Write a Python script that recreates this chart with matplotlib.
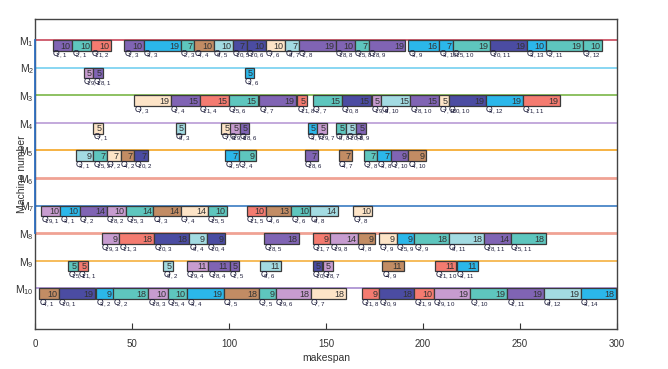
import numpy as np
import matplotlib.pyplot as plt

plt.rcParams['font.family'] = ['Liberation Sans', 'DejaVu Sans']
plt.rcParams['mathtext.default'] = 'regular'

# one list per machine: start time, processing time, colour key, operation label
starts = [
    [9, 19, 29, 46, 56, 75, 82, 92, 102, 109, 119, 129, 136, 155, 165, 172, 192.5, 208.5, 215.5, 234.5, 253.5, 263.5, 282.5],
    [25, 30, 108],
    [51, 70, 85, 100, 115.5, 135.3, 143.2, 158.3, 173.6, 178.6, 193.5, 208.5, 213.5, 232.5, 251.5],
    [30, 72.5, 96, 100.5, 105.5, 140.5, 145.5, 155.2, 160.4, 165.5],
    [21, 30, 37, 44, 51, 98, 105, 139, 156.5, 169.5, 176.5, 183.5, 192.5],
    [],
    [3, 13, 23, 37, 47, 61, 75, 89, 109, 119, 132, 142, 164],
    [34.3, 43.4, 61.4, 79.4, 88.8, 118.2, 143.2, 152.3, 166.4, 177.4, 186.5, 195.5, 213.5, 231.5, 245.5],
    [17, 22.2, 66.1, 78.2, 89.3, 100.3, 116, 143.2, 148.4, 179, 206.3, 217.5],
    [2, 12, 31.4, 40.3, 58.4, 68.4, 78.5, 97.2, 115.2, 124.2, 142.2, 168.5, 177.5, 195.5, 205.5, 224.5, 243.5, 262.5, 281.5],
]
durations = [
    [10, 10, 10, 10, 19, 7, 10, 10, 7, 10, 10, 7, 19, 10, 7, 19, 16, 7, 19, 19, 10, 19, 10],
    [5, 5, 5],
    [19, 15, 15, 15, 19, 5, 15, 15, 5, 15, 15, 5, 19, 19, 19],
    [5, 5, 5, 5, 5, 5, 5, 5, 5, 5],
    [9, 7, 7, 7, 7, 7, 9, 7, 7, 7, 7, 9, 9],
    [],
    [10, 10, 14, 10, 14, 14, 14, 10, 10, 13, 10, 14, 10],
    [9, 18, 18, 9, 9, 18, 9, 14, 9, 9, 9, 18, 18, 14, 18],
    [5, 5, 5, 11, 11, 5, 11, 5, 5, 11, 11, 11],
    [10, 19, 9, 18, 10, 10, 19, 18, 9, 18, 18, 9, 18, 10, 19, 19, 19, 19, 18],
]
colour_keys = [
    ['pu', 'te', 'sa', 'pu', 'sk', 'te', 'br', 'lb', 'na', 'na', 'pe', 'lb', 'pu', 'pu', 'te', 'pu', 'sk', 'sk', 'te', 'na', 'sk', 'te', 'te'],
    ['li', 'pu', 'sk'],
    ['pe', 'pu', 'sa', 'te', 'pu', 'sa', 'te', 'na', 'li', 'lb', 'pu', 'pe', 'na', 'sk', 'sa'],
    ['pe', 'lb', 'pe', 'li', 'pu', 'sk', 'li', 'te', 'lb', 'pu'],
    ['lb', 'te', 'pe', 'br', 'na', 'sk', 'te', 'pu', 'br', 'te', 'sk', 'pu', 'br'],
    [],
    ['li', 'sk', 'pu', 'li', 'te', 'br', 'pe', 'te', 'sa', 'br', 'te', 'lb', 'pe'],
    ['li', 'sa', 'na', 'lb', 'na', 'pu', 'sa', 'li', 'br', 'pe', 'sk', 'te', 'lb', 'pu', 'te'],
    ['te', 'sa', 'lb', 'li', 'pu', 'pu', 'lb', 'na', 'li', 'br', 'sa', 'sk'],
    ['br', 'na', 'sk', 'te', 'li', 'te', 'sk', 'br', 'te', 'li', 'pe', 'sa', 'na', 'sa', 'li', 'te', 'pu', 'lb', 'sk'],
]
op_labels = [
    ['1,1', '2,1', '11,2', '1,3', '3,3', '2,3', '4,4', '6,5', '10,5', '10,6', '7,6', '6,7', '1,8', '18,8', '15,8', '18,9', '3,9', '3,10', '15,10', '10,11', '3,13', '2,11', '2,12'],
    ['19,1', '18,1', '3,6'],
    ['7,3', '1,4', '11,4', '15,6', '1,7', '11,8', '2,7', '10,8', '19,9', '6,10', '18,10', '7,10', '10,10', '3,12', '11,11'],
    ['7,1', '6,3', '7,5', '19,6', '18,6', '3,7', '19,7', '5,8', '10,9', '1,9'],
    ['3,1', '15,2', '7,2', '4,2', '10,2', '3,5', '2,4', '18,6', '4,7', '2,8', '3,8', '1,10', '4,10'],
    [],
    ['19,1', '3,1', '1,2', '18,2', '15,3', '4,3', '7,4', '15,5', '11,5', '4,6', '2,6', '6,8', '7,8'],
    ['19,3', '11,3', '10,3', '6,4', '10,4', '18,5', '11,7', '19,8', '4,8', '7,9', '15,9', '2,9', '6,11', '18,11', '15,11'],
    ['15,1', '11,1', '6,2', '19,4', '18,4', '1,5', '6,6', '10,7', '18,7', '4,9', '11,10', '3,11'],
    ['4,1', '10,1', '3,2', '2,2', '18,3', '15,4', '3,4', '4,5', '2,5', '19,6', '7,7', '11,8', '10,9', '11,9', '19,10', '2,10', '1,11', '6,12', '3,14'],
]
machines = ['M$_{%d}$' % i for i in range(1, 11)]
xticks = [0, 50, 100, 150, 200, 250, 300]

palette = {
    'pu': '#8064b4', 'te': '#5ec6be', 'sa': '#f47b70', 'sk': '#2bb7ea',
    'br': '#c28c64', 'lb': '#a3dbe2', 'na': '#4b4ca2', 'pe': '#fde4c7',
    'li': '#c79cd0',
}
line_colours = ['#c8475a', '#74d0f0', '#7ab648', '#b99bd6', '#f5a623',
                '#f0a294', '#3a7cc2', '#f0a294', '#f5b040', '#a78bd0']
line_widths = [1.2, 1.2, 1.2, 1.2, 1.2, 2.0, 1.2, 2.0, 1.2, 1.2]

fig = plt.figure(figsize=(6.68, 3.69), dpi=100)
ax = fig.add_axes([0.0528, 0.1084, 0.8704, 0.8393])

bar_h = 0.39
for m in range(10):
    y = m + 1
    ax.plot([0, 300], [y, y], color=line_colours[m], lw=line_widths[m], zorder=1)
    cols = [palette[c] for c in colour_keys[m]]
    ax.barh([y + bar_h / 2] * len(starts[m]), durations[m], left=starts[m], height=bar_h,
            color=cols, edgecolor='#3a3a3a', linewidth=0.9, zorder=2)
    for s, d, lab in zip(starts[m], durations[m], op_labels[m]):
        ax.text(s + d - 0.8, y + 0.22, str(d), ha='right', va='center',
                fontsize=6.5, color='#333333', zorder=3)
        # subscript tucked under the O, as in the original rendering
        ax.text(s - 0.3, y + 0.53, r'O$_{\!\!\!%s}$' % lab, ha='left', va='center',
                fontsize=6.3, color='#1c1c3a', zorder=3)

# blue stretch of the y axis
ax.plot([0, 0], [1, 8], color='#2f6fc0', lw=1.3, zorder=4, clip_on=False)

ax.set_xlim(0, 300)
ax.set_ylim(11.475, 0.25)
ax.set_xticks(xticks)
ax.set_yticks(range(1, 11))
ax.set_yticklabels(machines)
ax.tick_params(axis='x', direction='in', length=4, labelsize=7, colors='#333333', pad=7)
ax.tick_params(axis='y', length=0, labelsize=7.5, colors='#333333', pad=1)
for sp in ax.spines.values():
    sp.set_color('#444444')
    sp.set_linewidth(1.0)

ax.set_xlabel('makespan', fontsize=7.5, color='#333333', labelpad=3)
ax.set_ylabel('Machine number', fontsize=7.5, color='#333333')
ax.yaxis.set_label_coords(-0.0143, 0.5)

fig.savefig('out.png', dpi=100)
